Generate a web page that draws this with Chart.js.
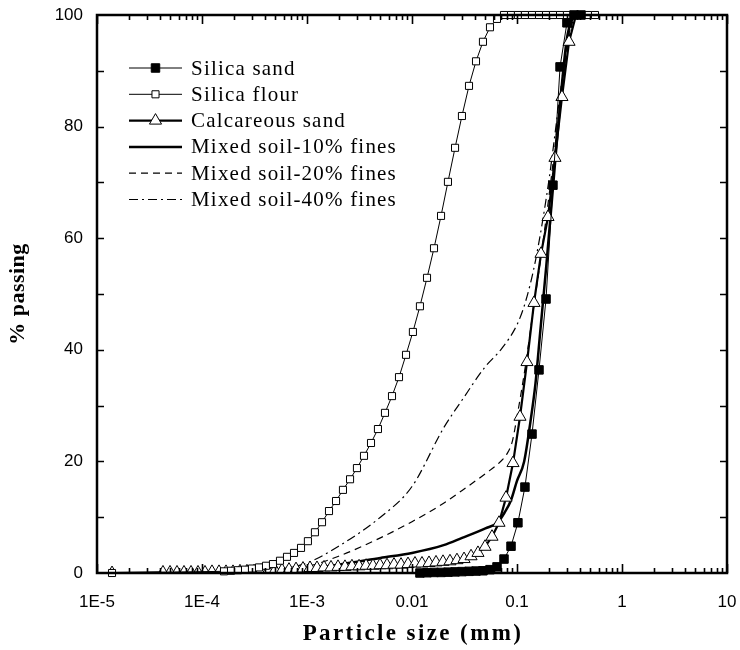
<!DOCTYPE html>
<html>
<head>
<meta charset="utf-8">
<script src="https://cdn.jsdelivr.net/npm/chart.js@4.4.0/dist/chart.umd.min.js"></script>
<style>
  html, body { margin: 0; padding: 0; background: #fff; }
  #wrap { width: 740px; height: 650px; }
</style>
</head>
<body>
<div id="wrap"><canvas id="psd" width="740" height="650"></canvas></div>
<script>
// particle size (mm) vs % passing
const seriesNames = ['Silica sand', 'Silica flour', 'Calcareous sand',
  'Mixed soil-10% fines', 'Mixed soil-20% fines', 'Mixed soil-40% fines'];
const xTitle = 'Particle size (mm)';
const yTitle = '% passing';

const silicaSandSize = [0.0119, 0.0139, 0.0162, 0.0189, 0.0220, 0.0257, 0.0299, 0.0349, 0.0407, 0.0474,
  0.0553, 0.0645, 0.0752, 0.0877, 0.102, 0.119, 0.139, 0.162, 0.189, 0.220, 0.257, 0.299, 0.349, 0.407];
const silicaSandPass = [0, 0.05, 0.1, 0.1, 0.15, 0.2, 0.25, 0.3, 0.35, 0.4,
  0.6, 1.1, 2.5, 4.8, 9.0, 15.4, 24.9, 36.4, 49.1, 69.5, 90.7, 98.6, 100, 100];

const silicaFlourSize = [1.39e-5, 1.62e-4, 1.89e-4, 2.20e-4, 2.57e-4, 2.99e-4, 3.49e-4, 4.07e-4, 4.74e-4, 5.53e-4,
  6.45e-4, 7.52e-4, 8.77e-4, 1.02e-3, 1.19e-3, 1.39e-3, 1.62e-3, 1.89e-3, 2.20e-3, 2.57e-3,
  2.99e-3, 3.49e-3, 4.07e-3, 4.74e-3, 5.53e-3, 6.45e-3, 7.52e-3, 8.77e-3, 0.0102, 0.0119,
  0.0139, 0.0162, 0.0189, 0.0220, 0.0257, 0.0299, 0.0349, 0.0407, 0.0474, 0.0553,
  0.0645, 0.0752, 0.0877, 0.102, 0.119, 0.139, 0.162, 0.189, 0.220, 0.257,
  0.299, 0.349, 0.407, 0.474, 0.553];
const silicaFlourPass = [0, 0.3, 0.4, 0.5, 0.6, 0.8, 1.0, 1.3, 1.6, 2.2,
  2.9, 3.6, 4.5, 5.7, 7.3, 9.1, 11.1, 12.9, 14.9, 16.8,
  18.8, 21.0, 23.3, 25.8, 28.7, 31.7, 35.1, 39.1, 43.2, 47.8,
  52.9, 58.2, 64.0, 70.1, 76.2, 81.9, 87.3, 91.7, 95.2, 97.8,
  99.3, 100, 100, 100, 100, 100, 100, 100, 100, 100,
  100, 100, 100, 100, 100];

const calcSandSize = [1.39e-5, 4.25e-5, 4.96e-5, 5.78e-5, 6.74e-5, 7.86e-5, 9.16e-5, 1.068e-4, 1.245e-4, 1.452e-4,
  1.693e-4, 1.974e-4, 2.30e-4, 2.68e-4, 3.13e-4, 3.65e-4, 4.25e-4, 4.96e-4, 5.78e-4, 6.74e-4,
  7.86e-4, 9.16e-4, 1.068e-3, 1.245e-3, 1.452e-3, 1.693e-3, 1.974e-3, 2.30e-3, 2.68e-3, 3.13e-3,
  3.65e-3, 4.25e-3, 4.96e-3, 5.78e-3, 6.74e-3, 7.86e-3, 9.16e-3, 0.01068, 0.01245, 0.01452,
  0.01693, 0.01974, 0.0230, 0.0268, 0.0313, 0.0365, 0.0425, 0.0496, 0.0578, 0.0674,
  0.0786, 0.0916, 0.1068, 0.1245, 0.1452, 0.1693, 0.1974, 0.230, 0.268, 0.313, 0.365];
const calcSandPass = [0, 0.1, 0.1, 0.1, 0.1, 0.1, 0.1, 0.1, 0.2, 0.2,
  0.2, 0.2, 0.3, 0.3, 0.3, 0.4, 0.4, 0.5, 0.5, 0.6,
  0.7, 0.8, 0.9, 0.9, 1.0, 1.0, 1.1, 1.1, 1.2, 1.2,
  1.3, 1.3, 1.4, 1.4, 1.5, 1.5, 1.6, 1.7, 1.7, 1.8,
  1.9, 2.0, 2.1, 2.3, 2.5, 3.0, 3.6, 4.7, 6.5, 9.0,
  13.5, 19.7, 28.0, 37.8, 48.4, 57.2, 63.8, 74.4, 85.3, 95.2, 100];

const mix10Size = [1e-4, 2e-4, 5e-4, 1e-3, 2e-3, 5e-3, 0.01, 0.02, 0.03, 0.05, 0.065,
  0.076, 0.0875, 0.1, 0.117, 0.134, 0.15, 0.166, 0.19, 0.22, 0.26, 0.3, 0.35];
const mix10Pass = [0, 0.2, 0.4, 0.8, 1.5, 2.7, 3.6, 5.0, 6.3, 8.0, 9.0,
  10.8, 13, 16.5, 20, 27, 34, 43, 55, 69, 85, 96, 100];

const mix20Size = [1e-4, 3e-4, 1e-3, 2e-3, 5e-3, 0.01, 0.02, 0.03, 0.05, 0.07,
  0.08, 0.09, 0.1, 0.12, 0.14, 0.17, 0.2, 0.25, 0.3, 0.35];
const mix20Pass = [0, 0.3, 1.2, 3.0, 6.3, 9.2, 12.5, 14.8, 17.8, 20,
  21.3, 23.5, 28, 37, 46, 57, 67, 82, 94, 100];

const mix40Size = [1e-4, 3e-4, 5e-4, 1e-3, 2e-3, 5e-3, 0.01, 0.02, 0.03, 0.05,
  0.07, 0.1, 0.12, 0.15, 0.2, 0.25, 0.3, 0.35];
const mix40Pass = [0, 0.4, 0.6, 1.8, 4.8, 10, 15.5, 26, 31, 37,
  40, 44.5, 48.5, 56, 70, 84, 95, 100];

const xTickValues = [1e-5, 1e-4, 1e-3, 0.01, 0.1, 1, 10];
const xTickLabels = ['1E-5', '1E-4', '1E-3', '0.01', '0.1', '1', '10'];
const yTickValues = [0, 20, 40, 60, 80, 100];

const pts = (xs, ys) => xs.map((v, i) => ({ x: v, y: ys[i] }));
const serif = '"Liberation Serif", "Times New Roman", serif';

// inward tick marks on all four sides + heavy frame
const frameTicks = {
  id: 'frameTicks',
  afterDraw(chart) {
    const { ctx, chartArea: a, scales: { x, y } } = chart;
    ctx.save();
    ctx.strokeStyle = '#000';
    ctx.lineWidth = 1.6;
    ctx.beginPath();
    for (let d = 0; d < xTickValues.length; d++) {
      const px = Math.round(x.getPixelForValue(xTickValues[d])) + 0.5;
      ctx.moveTo(px, a.bottom); ctx.lineTo(px, a.bottom - 9);
      ctx.moveTo(px, a.top); ctx.lineTo(px, a.top + 9);
      if (d === xTickValues.length - 1) break;
      for (let m = 2; m <= 9; m++) {
        const mx = Math.round(x.getPixelForValue(xTickValues[d] * m)) + 0.5;
        ctx.moveTo(mx, a.bottom); ctx.lineTo(mx, a.bottom - 5);
        ctx.moveTo(mx, a.top); ctx.lineTo(mx, a.top + 5);
      }
    }
    for (let v = 10; v < 100; v += 10) {
      const py = Math.round(y.getPixelForValue(v)) + 0.5;
      ctx.moveTo(a.left, py); ctx.lineTo(a.left + 7, py);
      ctx.moveTo(a.right, py); ctx.lineTo(a.right - 7, py);
    }
    ctx.stroke();
    ctx.lineWidth = 2.5;
    ctx.strokeRect(a.left, a.top, a.width, a.height);
    ctx.restore();
  }
};

// axis titles, bold serif like the original
const axisTitles = {
  id: 'axisTitles',
  afterDraw(chart) {
    const { ctx, chartArea: a } = chart;
    ctx.save();
    ctx.fillStyle = '#000';
    ctx.font = 'bold 23px ' + serif;
    ctx.letterSpacing = '2.4px';
    ctx.textAlign = 'center';
    ctx.textBaseline = 'middle';
    ctx.fillText(xTitle, (a.left + a.right) / 2 + 1, 634);
    ctx.font = 'bold 22px ' + serif;
    ctx.letterSpacing = '0.5px';
    ctx.translate(18, (a.top + a.bottom) / 2);
    ctx.rotate(-Math.PI / 2);
    ctx.fillText(yTitle, 0, 0);
    ctx.restore();
  }
};

// legend drawn inside the plot, line sample with marker in the middle
const insideLegend = {
  id: 'insideLegend',
  afterDraw(chart) {
    const { ctx, chartArea: a } = chart;
    chart.data.datasets.forEach((ds, i) => {
      const y = a.top + 53 + i * 26.3;
      const x0 = a.left + 32, x1 = a.left + 85;
      ctx.save();
      ctx.strokeStyle = '#000';
      ctx.lineWidth = ds.borderWidth;
      ctx.setLineDash(ds.borderDash || []);
      ctx.beginPath(); ctx.moveTo(x0, y); ctx.lineTo(x1, y); ctx.stroke();
      ctx.setLineDash([]);
      if (ds.pointRadius > 0) {
        ctx.fillStyle = ds.pointBackgroundColor;
        ctx.strokeStyle = '#000';
        ctx.lineWidth = ds.pointBorderWidth;
        Chart.helpers.drawPoint(ctx, { pointStyle: ds.pointStyle, rotation: 0,
          radius: ds.pointRadius, borderWidth: ds.pointBorderWidth }, (x0 + x1) / 2, y);
      }
      ctx.font = '21px ' + serif;
      ctx.letterSpacing = '1.2px';
      ctx.fillStyle = '#000';
      ctx.textBaseline = 'middle';
      ctx.fillText(ds.label, x1 + 9, y + 1);
      ctx.restore();
    });
  }
};

const ctx = document.getElementById('psd').getContext('2d');
new Chart(ctx, {
  type: 'scatter',
  data: {
    datasets: [
      { label: seriesNames[0], data: pts(silicaSandSize, silicaSandPass), showLine: true,
        borderColor: '#000', borderWidth: 1, pointStyle: 'rect', pointRadius: 6,
        pointBackgroundColor: '#000', pointBorderColor: '#000', pointBorderWidth: 1, clip: false },
      { label: seriesNames[1], data: pts(silicaFlourSize, silicaFlourPass), showLine: true,
        borderColor: '#000', borderWidth: 1, pointStyle: 'rect', pointRadius: 5,
        pointBackgroundColor: '#fff', pointBorderColor: '#000', pointBorderWidth: 1, clip: false },
      { label: seriesNames[2], data: pts(calcSandSize, calcSandPass), showLine: true,
        borderColor: '#000', borderWidth: 2.2, pointStyle: 'triangle', pointRadius: 7,
        pointBackgroundColor: '#fff', pointBorderColor: '#000', pointBorderWidth: 1 },
      { label: seriesNames[3], data: pts(mix10Size, mix10Pass), showLine: true,
        borderColor: '#000', borderWidth: 2.5, pointRadius: 0, cubicInterpolationMode: 'monotone' },
      { label: seriesNames[4], data: pts(mix20Size, mix20Pass), showLine: true,
        borderColor: '#000', borderWidth: 1.2, borderDash: [7, 5], pointRadius: 0,
        cubicInterpolationMode: 'monotone' },
      { label: seriesNames[5], data: pts(mix40Size, mix40Pass), showLine: true,
        borderColor: '#000', borderWidth: 1.2, borderDash: [9, 4, 2, 4], pointRadius: 0,
        cubicInterpolationMode: 'monotone' }
    ]
  },
  options: {
    responsive: false,
    animation: false,
    layout: { padding: { top: 15, right: 13, left: 0, bottom: 0 } },
    plugins: { legend: { display: false }, tooltip: { enabled: false } },
    scales: {
      x: {
        type: 'logarithmic', min: 1e-5, max: 10,
        grid: { display: false, drawTicks: false },
        border: { display: false },
        afterBuildTicks: s => { s.ticks = xTickValues.map(v => ({ value: v })); },
        afterFit: s => { s.height = 77; s.paddingLeft = 0; s.paddingRight = 0; },
        ticks: {
          autoSkip: false, maxRotation: 0, padding: 19, color: '#000',
          font: { family: '"Liberation Sans", Arial, sans-serif', size: 17 },
          callback: v => xTickLabels[xTickValues.indexOf(v)]
        }
      },
      y: {
        min: 0, max: 100,
        grid: { display: false, drawTicks: false },
        border: { display: false },
        afterBuildTicks: s => { s.ticks = yTickValues.map(v => ({ value: v })); },
        afterFit: s => { s.width = 97; s.paddingTop = 0; s.paddingBottom = 0; },
        ticks: { padding: 14, color: '#000',
          font: { family: '"Liberation Sans", Arial, sans-serif', size: 17 } }
      }
    }
  },
  plugins: [frameTicks, axisTitles, insideLegend]
});
</script>
</body>
</html>
